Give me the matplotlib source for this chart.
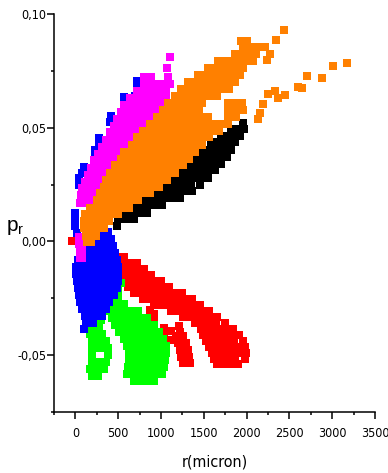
import matplotlib
matplotlib.use('Agg')
import matplotlib.pyplot as plt
from matplotlib import font_manager
from matplotlib.ticker import MultipleLocator

# look for a narrow face (the original labels are set in a condensed sans)
narrow_file = None
for key in ('LiberationSansNarrow-Regular', 'ArialNarrow', 'DejaVuSansCondensed.ttf', 'Condensed-Regular', 'Narrow'):
    hits = [f.fname for f in font_manager.fontManager.ttflist
            if key.lower() in f.fname.lower() and 'bold' not in f.fname.lower()
            and 'oblique' not in f.fname.lower() and 'italic' not in f.fname.lower()]
    if hits:
        narrow_file = sorted(hits)[0]
        break
plt.rcParams['font.family'] = ['Liberation Sans', 'DejaVu Sans']


def face(size):
    if narrow_file:
        return font_manager.FontProperties(fname=narrow_file, size=size)
    return font_manager.FontProperties(family=['Liberation Sans', 'DejaVu Sans'], size=size)


# ---- data: one p value per row, r values of the squares in that row ----
orange_p = [0.0856, 0.0825, 0.0795, 0.0764, 0.0733, 0.0702, 0.0672, 0.0641, 0.0610, 0.0579,
            0.0549, 0.0518, 0.0487, 0.0457, 0.0426, 0.0395, 0.0364, 0.0334, 0.0303, 0.0272,
            0.0241, 0.0211, 0.0180, 0.0149, 0.0119, 0.0088, 0.0057, 0.0026, -0.0004]
orange_r = [[1954, 2036, 2130],
            [1860, 1942, 2024, 2106],
            [1661, 1743, 1825, 1907, 1989, 2071],
            [1544, 1626, 1708, 1790, 1872, 1954],
            [1427, 1509, 1591, 1673, 1755, 1837, 1919],
            [1310, 1392, 1474, 1556, 1638, 1720, 1802, 1860],
            [1228, 1310, 1392, 1474, 1556, 1638, 1720, 1790],
            [1158, 1240, 1322, 1404, 1486, 1568, 1650],
            [1076, 1158, 1240, 1322, 1404, 1474, 1778, 1860, 1942],
            [1018, 1100, 1182, 1264, 1346, 1439, 1778, 1860, 1954],
            [959, 1041, 1123, 1205, 1287, 1369, 1451, 1544, 1778, 1872],
            [877, 959, 1041, 1123, 1205, 1287, 1369, 1451, 1533, 1615, 1697, 1778],
            [784, 866, 948, 1030, 1112, 1193, 1275, 1357, 1439, 1521, 1603, 1673],
            [725, 807, 889, 971, 1053, 1135, 1217, 1299, 1381, 1463, 1556],
            [667, 749, 831, 913, 995, 1076, 1158, 1240, 1322, 1404, 1474],
            [573, 655, 737, 819, 901, 983, 1065, 1147, 1229, 1310, 1392],
            [527, 608, 690, 772, 854, 936, 1018, 1100, 1182, 1264, 1322],
            [468, 550, 632, 714, 796, 878, 959, 1041, 1123, 1205, 1252],
            [410, 491, 573, 655, 737, 819, 901, 983, 1065, 1158],
            [363, 445, 527, 608, 690, 772, 854, 936, 1018, 1065],
            [339, 421, 503, 585, 667, 749, 831, 913, 971],
            [293, 374, 456, 538, 620, 702, 784, 866],
            [257, 339, 421, 503, 585, 667, 737],
            [176, 257, 339, 421, 503, 585, 632],
            [117, 199, 281, 363, 445, 503],
            [105, 187, 269, 351, 398],
            [105, 187, 269, 339],
            [129, 211, 246],
            [140, 180]]
# loose orange squares (top end and the second, thinner branch)
orange_far_r = [2434, 2340, 1930, 2000, 2211, 2094, 2270, 2235, 2153, 2188, 2246,
                2328, 2363, 2445, 2597, 2644, 2703, 2878, 3007, 3171, 2129]
orange_far_p = [0.0931, 0.0887, 0.0882, 0.0882, 0.0856, 0.0830, 0.0825, 0.0799, 0.0566, 0.0606, 0.0650,
                0.0663, 0.0632, 0.0645, 0.0680, 0.0676, 0.0729, 0.0720, 0.0773, 0.0786, 0.0540]

magenta_p = [0.0812, 0.0764, 0.0724, 0.0694, 0.0663, 0.0632, 0.0601, 0.0571, 0.0540, 0.0509,
             0.0479, 0.0448, 0.0417, 0.0386, 0.0356, 0.0325, 0.0294, 0.0263, 0.0233, 0.0202,
             0.0171, 0.0018, -0.0013, -0.0044, -0.0075]
magenta_r = [[1100], [1065], [807, 889, 1076],
             [796, 878, 959, 1041, 1100],
             [725, 807, 889, 971, 1053],
             [643, 725, 807, 889, 971, 1053],
             [573, 655, 737, 819, 901, 983, 1053],
             [527, 608, 690, 772, 854, 936, 1006],
             [491, 573, 655, 737, 819, 901, 959],
             [456, 538, 620, 702, 784, 866],
             [410, 491, 573, 655, 737, 796],
             [363, 445, 527, 608, 690],
             [316, 398, 480, 562, 632],
             [269, 351, 433, 515, 562],
             [222, 304, 386, 468, 515],
             [187, 269, 351, 433],
             [152, 234, 316, 374],
             [117, 199, 281, 328],
             [82, 164, 246, 281],
             [70, 152, 222],
             [59, 140, 187],
             [47, 82], [47, 82], [59, 82], [59, 82]]

# blue: thin rim on the upper branch, then the lower blob
blue_rim_r = [714, 714, 702, 573, 573, 655, 421, 410, 456, 281, 281, 234, 234,
              105, 82, 47, 47, 0, 0, 0, 23]
blue_rim_p = [0.0707, 0.0672, 0.0641, 0.0637, 0.0610, 0.0597, 0.0553, 0.0527, 0.0505, 0.0453, 0.0426, 0.0400, 0.0373,
              0.0329, 0.0303, 0.0277, 0.0246, 0.0127, 0.0097, 0.0066, 0.0035]
blue_p = [0.0040, 0.0009, -0.0022, -0.0053, -0.0083, -0.0114, -0.0145, -0.0176,
          -0.0206, -0.0237, -0.0268, -0.0299, -0.0329, -0.0360, -0.0386]
blue_r = [[316, 386],
          [176, 257, 339, 421],
          [82, 164, 246, 328, 410, 445],
          [59, 140, 222, 304, 386, 468],
          [35, 117, 199, 281, 363, 445, 491],
          [12, 94, 176, 257, 339, 421, 503],
          [12, 94, 176, 257, 339, 421, 503],
          [23, 105, 187, 269, 351, 433, 503],
          [35, 117, 199, 281, 363, 445, 491],
          [47, 129, 211, 293, 374, 456],
          [59, 140, 222, 304, 398],
          [82, 164, 246, 328, 363],
          [117, 199, 281, 316],
          [129, 211],
          [105]]

black_p = [0.0522, 0.0496, 0.0465, 0.0435, 0.0404, 0.0373, 0.0342, 0.0312,
           0.0281, 0.0250, 0.0220, 0.0189, 0.0158, 0.0127, 0.0097, 0.0070]
black_r = [[1954],
           [1814, 1895, 1966],
           [1697, 1778, 1860, 1919],
           [1580, 1661, 1743, 1825, 1860],
           [1486, 1568, 1650, 1732, 1814],
           [1404, 1486, 1568, 1650, 1732, 1767],
           [1322, 1404, 1486, 1568, 1650, 1697],
           [1228, 1310, 1392, 1474, 1556, 1626],
           [1135, 1217, 1299, 1381, 1463, 1544],
           [1018, 1100, 1182, 1264, 1346, 1451],
           [901, 983, 1065, 1147, 1229, 1310, 1357],
           [784, 866, 948, 1030, 1112, 1193, 1217],
           [643, 725, 807, 889, 971, 1006],
           [527, 608, 690, 772, 831],
           [503, 585, 667, 690],
           [491]]

red_p = [-0.0070, -0.0097, -0.0123, -0.0149, -0.0176, -0.0202, -0.0228, -0.0255, -0.0281, -0.0307,
         -0.0334, -0.0360, -0.0386, -0.0413, -0.0439, -0.0465, -0.0492, -0.0518, -0.0540]
red_r = [[527, 573],
         [527, 608, 690, 714],
         [550, 632, 714, 796],
         [573, 655, 737, 819, 889],
         [585, 667, 749, 831, 913, 995],
         [620, 702, 784, 866, 948, 1030, 1088],
         [690, 772, 854, 936, 1018, 1100, 1182, 1240],
         [784, 866, 948, 1030, 1112, 1193, 1275, 1357],
         [924, 1006, 1088, 1170, 1252, 1334, 1415, 1451],
         [1112, 1193, 1275, 1357, 1439, 1521, 1556],
         [1252, 1334, 1415, 1498, 1580, 1650],
         [1392, 1474, 1556, 1638, 1743],
         [1463, 1544, 1626, 1708, 1790, 1837],
         [1486, 1568, 1650, 1732, 1814, 1907],
         [1521, 1603, 1685, 1767, 1849, 1954],
         [1556, 1638, 1720, 1802, 1884, 1977],
         [1591, 1673, 1755, 1837, 1919, 1989],
         [1615, 1697, 1778, 1860, 1977],
         [1650, 1732, 1814, 1895]]
# red fragments under the main red band
red_bits_r = [-35, 866, 913, 913, 1030, 1112, 1030, 1100, 1053, 1205, 1217,
              1170, 1252, 1193, 1287, 1217, 1310, 1229, 1322, 1252, 1334]
red_bits_p = [0.0004, -0.0303, -0.0320, -0.0351, -0.0382, -0.0395, -0.0413, -0.0435, -0.0452, -0.0373, -0.0400,
              -0.0417, -0.0417, -0.0448, -0.0448, -0.0479, -0.0479, -0.0509, -0.0509, -0.0536, -0.0536]

green_left_p = [-0.0347, -0.0378, -0.0408, -0.0439, -0.0470, -0.0500, -0.0531, -0.0562, -0.0593]
green_left_r = [[222, 304], [199, 281], [176, 257, 316], [199, 281, 363],
                [199, 281, 363, 386], [190, 375], [199, 281, 363], [176, 257, 339], [199, 269]]
green_right_p = [-0.0184, -0.0215, -0.0246, -0.0277, -0.0307, -0.0338, -0.0369, -0.0399,
                 -0.0430, -0.0461, -0.0492, -0.0522, -0.0553, -0.0584, -0.0615]
green_right_r = [[527], [503], [433, 503], [410, 491, 562],
                 [410, 491, 573, 655, 737],
                 [433, 515, 597, 679, 761, 842],
                 [468, 550, 632, 714, 796, 878, 924],
                 [515, 597, 679, 761, 842, 924, 971],
                 [562, 643, 725, 807, 889, 971, 1018],
                 [608, 690, 772, 854, 936, 1018, 1053],
                 [632, 714, 796, 878, 959, 1018, 1053],
                 [632, 714, 796, 878, 959, 1041],
                 [620, 702, 784, 866, 948, 1030],
                 [597, 679, 761, 842, 924, 1006],
                 [690, 772, 854, 924]]

x_ticks = [0, 500, 1000, 1500, 2000, 2500, 3000, 3500]
x_labels = ['0', '500', '1000', '1500', '2000', '2500', '3000', '3500']
y_ticks = [-0.05, 0.0, 0.05, 0.10]
y_labels = ['-0,05', '0,00', '0,05', '0,10']


fig = plt.figure(figsize=(3.88, 4.73), dpi=100)
ax = fig.add_axes([54/388, 1-412/473, 321/388, 398/473])

MS = 5.6


def rows(ps, rs, color):
    r = [x for row in rs for x in row]
    p = [y for y, row in zip(ps, rs) for _ in row]
    ax.plot(r, p, ls='none', marker='s', ms=MS, mew=0, color=color)


def pts(r, p, color):
    ax.plot(r, p, ls='none', marker='s', ms=MS, mew=0, color=color)


rows(red_p, red_r, '#ff0000')
pts(red_bits_r, red_bits_p, '#ff0000')
rows(green_left_p, green_left_r, '#00ff00')
rows(green_right_p, green_right_r, '#00ff00')
rows(blue_p, blue_r, '#0000ff')
pts(blue_rim_r, blue_rim_p, '#0000ff')
rows(magenta_p, magenta_r, '#ff00ff')
rows(black_p, black_r, '#000000')
rows(orange_p, orange_r, '#ff8000')
pts(orange_far_r, orange_far_p, '#ff8000')

ax.set_xlim(-250, 3500)
ax.set_ylim(-0.075, 0.10)
ax.spines['top'].set_visible(False)
ax.spines['right'].set_visible(False)
for s in ('left', 'bottom'):
    ax.spines[s].set_linewidth(1.1)

ax.set_xticks(x_ticks, x_labels)
ax.set_yticks(y_ticks, y_labels)
ax.xaxis.set_minor_locator(MultipleLocator(250))
ax.yaxis.set_minor_locator(MultipleLocator(0.025))
ax.tick_params(which='major', direction='out', length=5, width=1.1)
ax.tick_params(which='minor', direction='out', length=2.5, width=1.1)
ax.tick_params(axis='x', which='major', pad=6)
ax.tick_params(axis='y', which='major', pad=0.5)

tick_size = 9 if narrow_file else 8
for lbl in ax.get_xticklabels() + ax.get_yticklabels():
    lbl.set_fontproperties(face(tick_size))

ax.set_xlabel('r(micron)', fontproperties=face(11.5 if narrow_file else 10.5), labelpad=10)
# y label "p" with subscript "r", kept as one text
fig.text(6/388, 1-230.5/473, r'$\mathregular{p_r}$', fontsize=15, va='baseline', ha='left')

fig.savefig('out.png', dpi=100)
